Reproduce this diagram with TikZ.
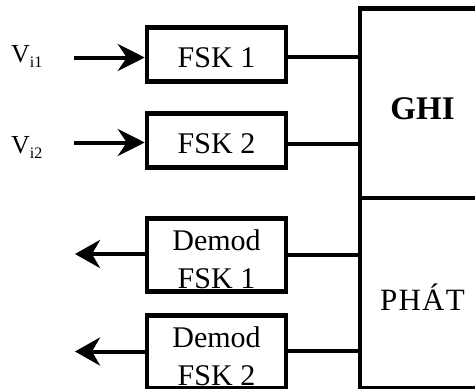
\documentclass[tikz,border=0pt]{standalone}
\usepackage{fontspec}
\setmainfont{Liberation Serif}
\usetikzlibrary{arrows.meta}
\newcommand\mystrut[1]{\rule{0pt}{#1}}
\begin{document}
\begin{tikzpicture}[x=1pt,y=-1pt,
  box/.style={draw, line width=4.5pt, minimum width=139pt, inner sep=0pt,
    font=\fontsize{30}{38}\selectfont, align=center},
  bigbox/.style={draw, line width=4.5pt, minimum width=125pt, inner sep=0pt},
  conn/.style={line width=4pt},
  inarrow/.style={conn, -{Stealth[length=27pt,width=27pt,inset=9pt]}},
  outarrow/.style={conn, -{Stealth[length=25pt,width=28pt,inset=8pt]}},
  vlabel/.style={anchor=base west, inner sep=0pt, font=\fontsize{26}{30}\selectfont}]
\useasboundingbox (0,0) rectangle (475,389);

% right block
\node[bigbox, minimum height=189.5pt, font=\fontsize{33}{40}\selectfont\bfseries]
  (ghi) at (422.5,103.25) {\mystrut{33pt}GHI};
\node[bigbox, minimum height=190pt, font=\fontsize{31}{40}\selectfont]
  (phat) at (422.5,293) {\mystrut{35pt}\addfontfeature{LetterSpace=4}PHÁT};

% FSK boxes
\node[box, minimum height=54pt] (fsk1) at (216.5,54.5) {\mystrut{26pt}FSK 1};
\node[box, minimum height=54pt] (fsk2) at (216.5,140.5) {\mystrut{26pt}FSK 2};
\node[box, minimum height=73pt] (dm1) at (216.5,255) {\mystrut{28.5pt}Demod\\FSK 1};
\node[box, minimum height=73pt] (dm2) at (216.5,352) {\mystrut{28.5pt}Demod\\FSK 2};

% labels
\node[vlabel] (v1) at (11,62.5) {V\raisebox{-5pt}{\fontsize{16}{16}\selectfont i1}};
\node[vlabel] (v2) at (11,153) {V\raisebox{-5pt}{\fontsize{16}{16}\selectfont i2}};

% connector coordinates
\coordinate (in1) at (74,57.5);
\coordinate (in2) at (74,142.5);
\coordinate (out1) at (75,254);
\coordinate (out2) at (75,351.5);

% input arrows
\draw[inarrow] (in1) -- (in1 -| fsk1.west);
\draw[inarrow] (in2) -- (in2 -| fsk2.west);
% output arrows
\draw[outarrow] (out1 -| dm1.west) -- (out1);
\draw[outarrow] (out2 -| dm2.west) -- (out2);

% connectors to right block
\draw[conn] (fsk1.east |- 0,57) -- (ghi.west |- 0,57);
\draw[conn] (fsk2.east |- 0,144) -- (ghi.west |- 0,144);
\draw[conn] (dm1.east) -- (dm1.east -| phat.west);
\draw[conn] (dm2.east |- 0,351) -- (phat.west |- 0,351);
\end{tikzpicture}
\end{document}
